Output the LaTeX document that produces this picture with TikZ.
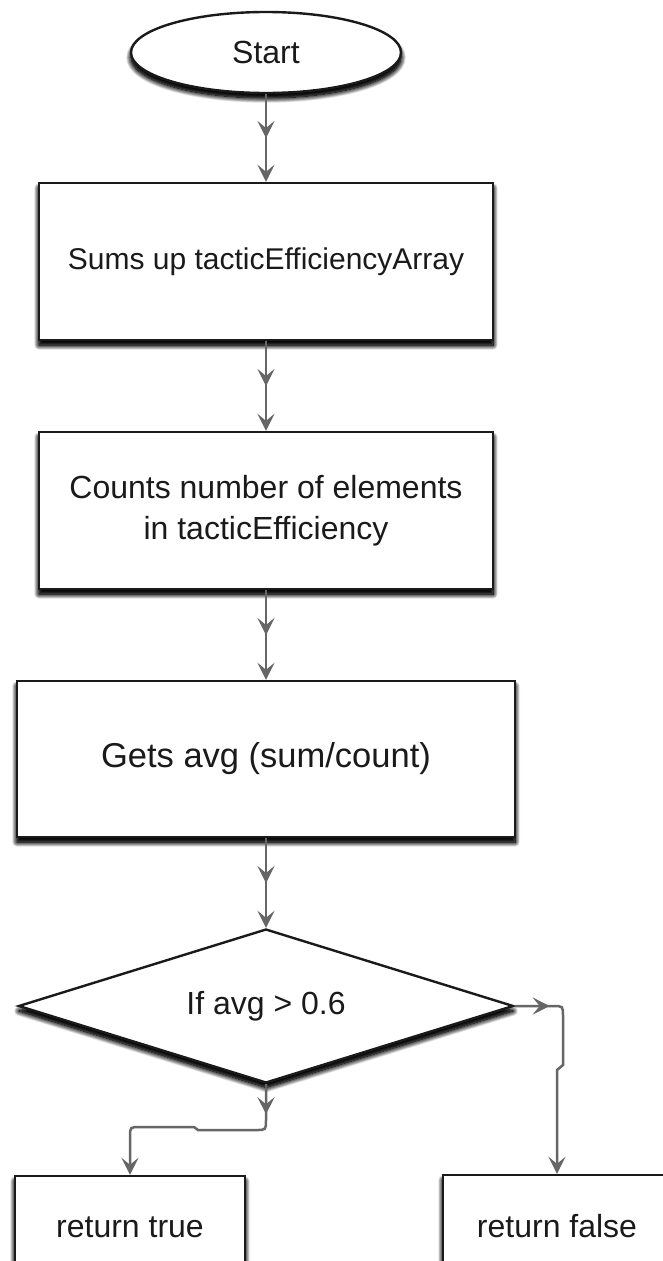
\documentclass[tikz,border=0pt]{standalone}
\usepackage{fontspec}
\setmainfont{Liberation Sans}
\usetikzlibrary{shapes.geometric,arrows.meta,decorations.markings,shadows.blur}
\definecolor{conncol}{HTML}{666666}
\definecolor{edgecol}{HTML}{1A1A1A}
\begin{document}
\begin{tikzpicture}[x=1pt,y=-1pt,
  every node/.style={font=\fontsize{32}{41}\selectfont, text=edgecol},
  shadowed/.style={
    blur shadow={shadow xshift=2pt, shadow yshift=-10pt, shadow blur radius=10pt, shadow blur steps=14, shadow opacity=70},
    blur shadow={shadow xshift=0pt, shadow yshift=-5pt, shadow blur radius=5pt, shadow blur steps=10, shadow opacity=100}},
  boxshape/.style={rectangle, draw=edgecol, line width=2.4pt, fill=white, inner sep=0pt, align=center, shadowed},
  startshape/.style={ellipse, draw=edgecol, line width=2.4pt, fill=white, inner sep=0pt, shadowed},
  decshape/.style={diamond, aspect=3.2, draw=edgecol, line width=2.4pt, fill=white, inner sep=0pt, shadowed},
  tipstyle/.tip={Stealth[length=17pt,width=17pt,inset=7pt]},
  conn/.style={draw=conncol, line width=2.5pt, -{tipstyle}},
  midarrow/.style={postaction={decorate}, decoration={markings, mark=at position #1 with {\arrow{tipstyle}}}}
]
\useasboundingbox (0,0) rectangle (663,1261);

\node[startshape, minimum width=270pt, minimum height=81pt] (start) at (266,52.5) {Start};
\node[boxshape, minimum width=454pt, minimum height=157pt, font=\fontsize{30}{38}\selectfont] (sum) at (266,261.5) {Sums up tacticEfficiencyArray};
\node[boxshape, minimum width=454pt, minimum height=157pt] (count) at (266,510.5) {Counts number of elements\\in tacticEfficiency};
\node[boxshape, minimum width=498pt, minimum height=156pt, font=\fontsize{34.5}{42}\selectfont] (avg) at (266,759) {Gets avg (sum/count)};
\node[decshape, minimum width=495pt, minimum height=154pt] (dec) at (266,1006) {If avg > 0.6};
\node[boxshape, minimum width=230pt, minimum height=102pt] (rt) at (130,1227) {return true};
\node[boxshape, minimum width=228pt, minimum height=102pt] (rf) at (557,1226) {return false};

% right branch bend points
\coordinate (r1a) at (553,1006);
\coordinate (r1) at (563,1006);
\coordinate (r1b) at (563,1016);
\coordinate (r2) at (563,1065);
\coordinate (r3) at (557,1070);
% bottom branch bend points
\coordinate (l1a) at (266,1120);
\coordinate (l1) at (266,1130);
\coordinate (l1b) at (256,1130);
\coordinate (l2) at (198,1130);
\coordinate (l3) at (194,1127);
\coordinate (l4a) at (140,1127);
\coordinate (l4) at (130,1127);
\coordinate (l4b) at (130,1137);

\draw[conn, midarrow=0.5] (start) -- (sum);
\draw[conn, midarrow=0.5] (sum) -- (count);
\draw[conn, midarrow=0.5] (count) -- (avg);
\draw[conn, midarrow=0.5] (avg) -- (dec);
\draw[conn, midarrow=30pt] (dec.south) -- (l1a) .. controls (l1) .. (l1b) -- (l2) -- (l3) -- (l4a) .. controls (l4) .. (l4b) -- (rt.north);
\draw[conn, midarrow=35pt] (dec.east) -- (r1a) .. controls (r1) .. (r1b) -- (r2) -- (r3) -- (rf.north);
\end{tikzpicture}
\end{document}
